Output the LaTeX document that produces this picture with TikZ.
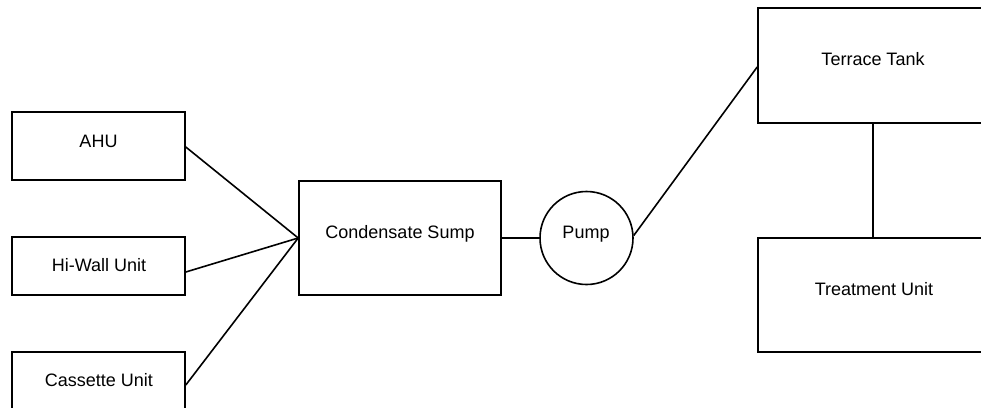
\documentclass[tikz,border=0pt]{standalone}
\usepackage{fontspec}
\setmainfont{Liberation Sans}
\begin{document}
\begin{tikzpicture}[x=1pt,y=-1pt,
  unitbox/.style={draw=black,line width=1.6pt,rectangle,inner sep=0pt},
  pumpshape/.style={draw=black,line width=1.6pt,circle,inner sep=0pt,minimum size=93pt},
  lbl/.style={font=\fontsize{18}{20}\selectfont,text height=12.9pt,text depth=0pt,inner sep=0pt,anchor=center},
  pipe/.style={draw=black,line width=1.6pt}]
\useasboundingbox (0,0) rectangle (981,407);
\clip (0,0) rectangle (981,407);
% boxes
\node[unitbox,minimum width=173pt,minimum height=68pt] (ahu) at (98.5,146) {};
\node[unitbox,minimum width=173pt,minimum height=58pt] (hiwall) at (98.5,266) {};
\node[unitbox,minimum width=173pt,minimum height=58pt] (cassette) at (98.5,381) {};
\node[unitbox,minimum width=202pt,minimum height=114pt] (sump) at (400,238) {};
\node[pumpshape] (pump) at (586.5,238) {};
\node[unitbox,minimum width=230pt,minimum height=115pt] (terrace) at (873,65.5) {};
\node[unitbox,minimum width=230pt,minimum height=114pt] (treat) at (873,295) {};
% labels
\node[lbl] (ahut) at (98.5,141) {AHU};
\node[lbl] (hiwallt) at (99,265) {Hi-Wall Unit};
\node[lbl] (cassettet) at (99,380) {Cassette Unit};
\node[lbl] (sumpt) at (400,232) {Condensate Sump};
\node[lbl] (pumpt) at (586,232) {Pump};
\node[lbl] (terracet) at (873,59) {Terrace Tank};
\node[lbl] (treatt) at (874,289) {Treatment Unit};
% connectors
\draw[pipe] ([yshift=-1pt]ahu.east) -- (sump.west);
\draw[pipe] ([yshift=-6pt]hiwall.east) -- (sump.west);
\draw[pipe] ([yshift=-4pt]cassette.east) -- (sump.west);
\draw[pipe] (sump.east) -- (pump.west);
\draw[pipe] (pump.3) -- ([yshift=-1.5pt]terrace.west);
\draw[pipe] (terrace.south) -- (treat.north);
\end{tikzpicture}
\end{document}
